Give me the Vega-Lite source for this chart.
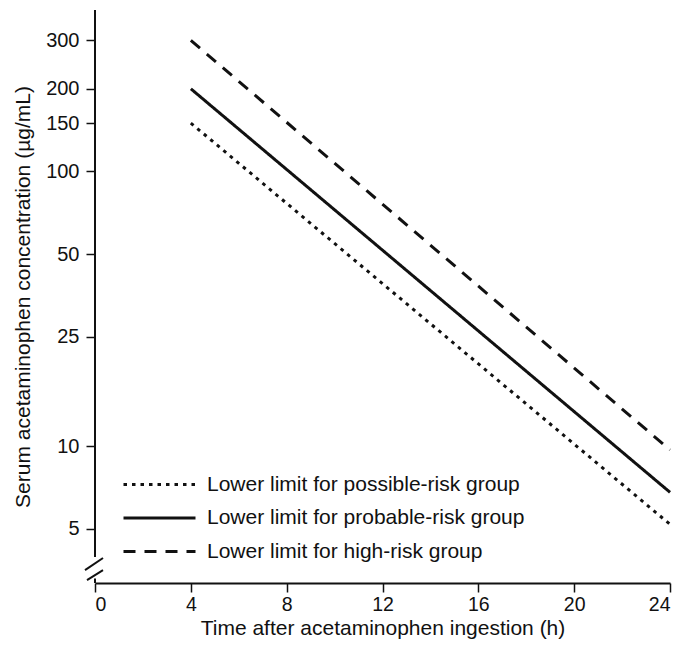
{
  "$schema": "https://vega.github.io/schema/vega-lite/v6.json",
  "autosize": {"type": "none"},
  "padding": {"left": 95, "top": 10, "right": 12, "bottom": 71},
  "width": 575,
  "height": 573,
  "background": "white",
  "config": {
    "font": "Liberation Sans",
    "view": {"stroke": null},
    "axis": {"grid": false, "labelColor": "#111", "titleColor": "#111", "tickColor": "#111", "domainColor": "#111", "titleFontWeight": "normal"}
  },
  "layer": [
    {
      "data": {"values": [
        {"group": "Lower limit for possible-risk group", "time": 4, "conc": 150},
        {"group": "Lower limit for possible-risk group", "time": 24, "conc": 5.2},
        {"group": "Lower limit for probable-risk group", "time": 4, "conc": 200},
        {"group": "Lower limit for probable-risk group", "time": 24, "conc": 6.8},
        {"group": "Lower limit for high-risk group", "time": 4, "conc": 300},
        {"group": "Lower limit for high-risk group", "time": 24, "conc": 9.7}
      ]},
      "mark": {"type": "line", "color": "#111", "strokeWidth": 3, "strokeCap": "butt"},
      "encoding": {
        "x": {"field": "time", "type": "quantitative",
          "scale": {"domain": [0, 24], "nice": false, "zero": false},
          "axis": {"values": [0, 4, 8, 12, 16, 20, 24], "title": "Time after acetaminophen ingestion (h)",
            "titleFontSize": 21, "titlePadding": 4, "labelFontSize": 19.5, "tickSize": 9, "labelPadding": 3, "domainWidth": 2, "tickWidth": 1.5}},
        "y": {"field": "conc", "type": "quantitative",
          "scale": {"type": "log", "domain": [3.18, 387], "nice": false},
          "axis": {"values": [5, 10, 25, 50, 100, 150, 200, 300], "title": "Serum acetaminophen concentration (µg/mL)",
            "titleFontSize": 21, "titlePadding": 12, "labelFontSize": 20, "tickSize": 9, "labelPadding": 7, "domain": false, "tickWidth": 1.5}},
        "strokeDash": {"field": "group", "type": "nominal",
          "scale": {"domain": ["Lower limit for possible-risk group", "Lower limit for probable-risk group", "Lower limit for high-risk group"],
            "range": [[3.5, 5], [1, 0], [12, 9]]},
          "legend": {"title": null, "orient": "none", "legendX": 53, "legendY": 463, "padding": 0,
            "symbolType": "M-3.6,0H3.6", "symbolSize": 400, "symbolStrokeWidth": 3, "symbolStrokeColor": "#111", "symbolFillColor": "transparent",
            "labelFontSize": 21, "labelColor": "#111", "labelOffset": 36, "labelLimit": 0, "rowPadding": 11.5}}
      }
    },
    {
      "data": {"values": [
        {"x": 0, "y": 387, "x2": 0, "y2": 3.95},
        {"x": 0, "y": 3.30, "x2": 0, "y2": 3.18},
        {"x": -0.417, "y": 3.54, "x2": 0.334, "y2": 3.92},
        {"x": -0.334, "y": 3.26, "x2": 0.334, "y2": 3.54}
      ]},
      "mark": {"type": "rule", "color": "#111", "strokeWidth": 2},
      "encoding": {
        "x": {"field": "x", "type": "quantitative"},
        "y": {"field": "y", "type": "quantitative"},
        "x2": {"field": "x2"},
        "y2": {"field": "y2"}
      }
    }
  ]
}
